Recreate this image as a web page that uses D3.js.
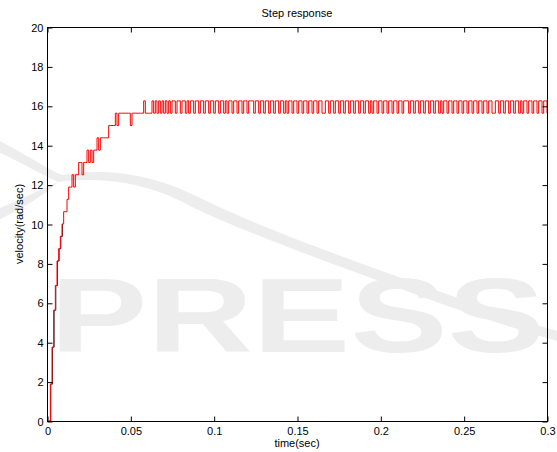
<!DOCTYPE html>
<html>
<head>
<meta charset="utf-8">
<script src="https://cdn.jsdelivr.net/npm/d3@7"></script>
<style>
  html, body { margin: 0; padding: 0; background: #fff; }
  svg { display: block; }
  text { font-family: "Liberation Sans", Arial, Helvetica, sans-serif; }
</style>
</head>
<body>
<svg id="chart" width="557" height="452"></svg>
<script>
// ---------- data ----------
const sampleTime = 0.001; // s between samples of the measured (red) signal
// measured velocity, one value per sample (rad/sec), 10 samples per row
const measuredVelocity = [
  0, 0, 1.875, 3.75, 5.625, 6.875, 8.125, 8.75, 9.375, 10,
  10.625, 10.625, 11.25, 11.875, 11.875, 12.5, 11.875, 12.5, 12.5, 13.125,
  13.125, 12.5, 13.125, 13.125, 13.75, 13.125, 13.75, 13.125, 13.75, 13.75,
  14.375, 13.75, 14.375, 14.375, 14.375, 14.375, 14.375, 15, 15, 15,
  15, 15.625, 15, 15.625, 15.625, 15.625, 15.625, 15.625, 15.625, 15.625,
  15, 15.625, 15.625, 15.625, 15.625, 15.625, 15.625, 15.625, 16.25, 15.625,
  15.625, 15.625, 15.625, 16.25, 15.625, 16.25, 15.625, 16.25, 15.625, 16.25,
  15.625, 16.25, 15.625, 16.25, 15.625, 16.25, 16.25, 15.625, 16.25, 16.25,
  15.625, 16.25, 16.25, 15.625, 16.25, 15.625, 16.25, 16.25, 15.625, 16.25,
  16.25, 15.625, 16.25, 16.25, 15.625, 16.25, 16.25, 15.625, 16.25, 16.25,
  15.625, 16.25, 16.25, 15.625, 16.25, 16.25, 15.625, 16.25, 15.625, 16.25,
  16.25, 15.625, 16.25, 16.25, 15.625, 16.25, 16.25, 15.625, 16.25, 16.25,
  15.625, 16.25, 16.25, 16.25, 15.625, 16.25, 16.25, 15.625, 16.25, 16.25,
  15.625, 16.25, 16.25, 15.625, 16.25, 16.25, 15.625, 16.25, 16.25, 15.625,
  16.25, 16.25, 15.625, 16.25, 15.625, 16.25, 16.25, 15.625, 16.25, 16.25,
  15.625, 16.25, 16.25, 15.625, 16.25, 16.25, 15.625, 16.25, 16.25, 15.625,
  16.25, 16.25, 15.625, 16.25, 16.25, 15.625, 15.625, 16.25, 16.25, 15.625,
  16.25, 16.25, 15.625, 16.25, 16.25, 15.625, 16.25, 16.25, 15.625, 16.25,
  16.25, 15.625, 16.25, 16.25, 15.625, 16.25, 16.25, 15.625, 16.25, 16.25,
  15.625, 16.25, 16.25, 15.625, 16.25, 15.625, 16.25, 16.25, 15.625, 16.25,
  16.25, 15.625, 16.25, 16.25, 15.625, 16.25, 16.25, 15.625, 16.25, 16.25,
  15.625, 16.25, 16.25, 15.625, 16.25, 16.25, 16.25, 15.625, 16.25, 16.25,
  15.625, 16.25, 16.25, 15.625, 16.25, 16.25, 15.625, 16.25, 16.25, 15.625,
  16.25, 16.25, 15.625, 16.25, 16.25, 15.625, 16.25, 15.625, 16.25, 16.25,
  15.625, 16.25, 16.25, 15.625, 16.25, 16.25, 15.625, 16.25, 16.25, 15.625,
  16.25, 16.25, 15.625, 16.25, 16.25, 15.625, 16.25, 16.25, 15.625, 16.25,
  16.25, 15.625, 16.25, 16.25, 15.625, 16.25, 16.25, 15.625, 15.625, 16.25,
  16.25, 15.625, 16.25, 16.25, 15.625, 16.25, 16.25, 15.625, 16.25, 16.25,
  15.625, 16.25, 16.25, 15.625, 16.25, 15.625, 16.25, 16.25, 15.625, 16.25,
  16.25, 15.625, 16.25, 16.25, 15.625, 16.25, 16.25, 15.625, 16.25, 16.25,
  15.625
];
// model (black) response during the first samples, drawn under the red trace
const modelTime     = [0.0013, 0.0023, 0.0033, 0.0043, 0.0053, 0.0063, 0.0073, 0.0083, 0.0093];
const modelVelocity = [0, 1.875, 3.75, 5.625, 6.875, 8.125, 8.75, 9.375, 10];

const xTicks = [0, 0.05, 0.1, 0.15, 0.2, 0.25, 0.3];
const yTicks = [0, 2, 4, 6, 8, 10, 12, 14, 16, 18, 20];
const titleText = "Step response";
const xLabelText = "time(sec)";
const yLabelText = "velocity(rad/sec)";
const watermarkText = "PRESS";

// ---------- layout ----------
const svg = d3.select("#chart");
const L = 47, R = 547, T = 27, B = 421;
const x = d3.scaleLinear().domain([0, 0.3]).range([L, R]);
const y = d3.scaleLinear().domain([0, 20]).range([B, T]);

// faint publisher watermark (behind everything)
const wm = svg.append("g").attr("fill", "#ededed");
wm.append("path")
  .attr("d", "M-10,148 C20,162 45,176 58,182 C90,178 140,178 190,206 C240,230 300,252 420,296 C480,318 520,330 560,342 L560,332 C520,320 480,306 424,286 C300,242 245,220 196,196 C140,168 90,170 62,175 C45,168 20,150 -10,136 Z");
wm.append("path")
  .attr("d", "M58,182 C45,195 20,210 -10,224 L-10,212 C20,200 40,190 58,182 Z");
wm.append("text").attr("x", 50).attr("y", 352)
  .attr("font-size", 105).attr("font-weight", "bold").attr("textLength", 495)
  .attr("lengthAdjust", "spacingAndGlyphs")
  .attr("font-family", "'DejaVu Sans', sans-serif")
  .text(watermarkText);

// lines
const measured = measuredVelocity.map((v, i) => ({ t: i * sampleTime, v }));
const model = modelTime.map((t, i) => ({ t, v: modelVelocity[i] }));
const stepLine = d3.line().x(d => x(d.t)).y(d => y(d.v)).curve(d3.curveStepAfter);

const plot = svg.append("g");
plot.append("path").datum(model)
  .attr("fill", "none").attr("stroke", "#000").attr("stroke-width", 0.8)
  .attr("d", stepLine);
plot.append("path").datum(measured)
  .attr("fill", "none").attr("stroke", "#ff0000").attr("stroke-width", 1)
  .attr("d", stepLine);

// axes (inward ticks, box)
const fmt = d => String(d);
const gx = svg.append("g").attr("transform", `translate(0.5,${B + 0.5})`)
  .call(d3.axisBottom(x).tickValues(xTicks).tickFormat(fmt).tickSize(-5).tickPadding(6));
const gxt = svg.append("g").attr("transform", `translate(0.5,${T + 0.5})`)
  .call(d3.axisTop(x).tickValues(xTicks).tickFormat("").tickSize(-5));
const gy = svg.append("g").attr("transform", `translate(${L + 0.5},0.5)`)
  .call(d3.axisLeft(y).tickValues(yTicks).tickFormat(fmt).tickSize(-5).tickPadding(4));
const gyr = svg.append("g").attr("transform", `translate(${R + 0.5},0.5)`)
  .call(d3.axisRight(y).tickValues(yTicks).tickFormat("").tickSize(-5));
[gx, gxt, gy, gyr].forEach(g => {
  g.select(".domain").remove();
  g.selectAll("text").attr("font-size", 11).attr("fill", "#000")
    .attr("font-family", "'Liberation Sans', Arial, sans-serif");
  g.selectAll("line").attr("stroke", "#000");
});
svg.append("rect").attr("x", L + 0.5).attr("y", T + 0.5)
  .attr("width", R - L).attr("height", B - T)
  .attr("fill", "none").attr("stroke", "#000").attr("stroke-width", 1);

// labels
svg.append("text").attr("x", (L + R) / 2).attr("y", 17)
  .attr("text-anchor", "middle").attr("font-size", 11).text(titleText);
svg.append("text").attr("x", (L + R) / 2).attr("y", 447)
  .attr("text-anchor", "middle").attr("font-size", 11).text(xLabelText);
svg.append("text").attr("transform", `translate(23,${(T + B) / 2}) rotate(-90)`)
  .attr("text-anchor", "middle").attr("font-size", 11).text(yLabelText);
</script>
</body>
</html>
